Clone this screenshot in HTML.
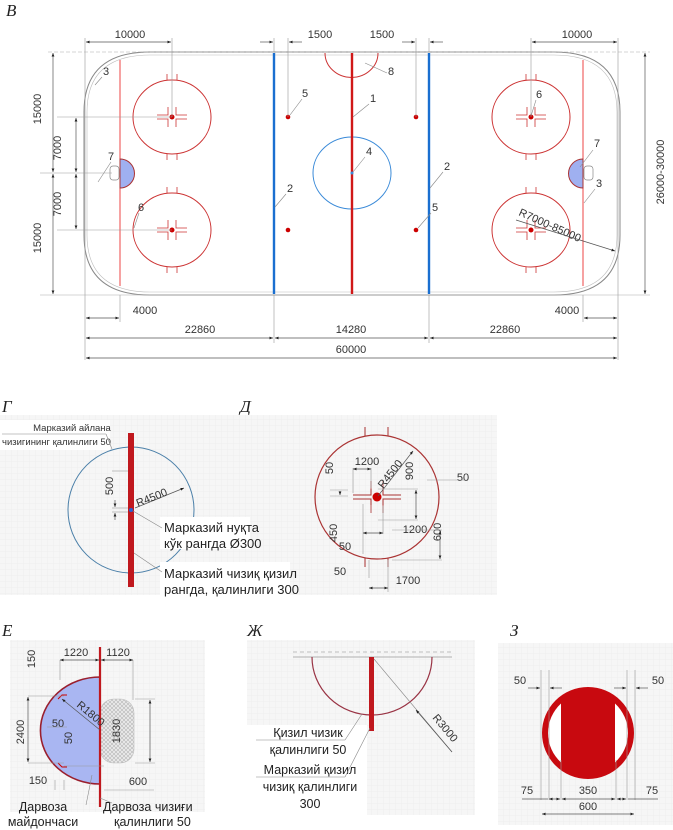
<!DOCTYPE html>
<html><head><meta charset="utf-8">
<style>
html,body{margin:0;padding:0;background:#fff;}
svg{display:block;font-family:"Liberation Sans","DejaVu Sans",sans-serif;}
.it{font-family:"Liberation Serif",serif;font-style:italic;font-size:17px;fill:#222;}
.d{font-size:11px;fill:#333;}
.dm{stroke:#555;stroke-width:0.7;fill:none;}
.ext{stroke:#999;stroke-width:0.6;fill:none;}
.n{font-size:11px;fill:#333;}
.ld{stroke:#888;stroke-width:0.6;fill:none;}
</style></head><body>
<svg width="673" height="830" viewBox="0 0 673 830" xmlns="http://www.w3.org/2000/svg">
<defs>
<pattern id="g" width="6" height="6" patternUnits="userSpaceOnUse">
<rect width="6" height="6" fill="#f6f6f6"/>
<path d="M6 0V6M0 6H6" stroke="#e8e8e8" stroke-width="0.5"/>
</pattern>
<pattern id="hatch" width="4" height="4" patternUnits="userSpaceOnUse">
<rect width="4" height="4" fill="#e6e6e6"/>
<path d="M0 0L4 4M4 0L0 4" stroke="#aaa" stroke-width="0.5"/>
</pattern>
<marker id="a" viewBox="0 0 10 10" refX="10" refY="5" markerWidth="7" markerHeight="5" orient="auto-start-reverse">
<path d="M0 1L10 5L0 9z" fill="#222"/></marker>
<g id="fo">
<ellipse cx="0" cy="0" rx="39" ry="37" fill="none" stroke="#c33" stroke-width="1"/>
<path d="M-5 -37v-6M5 -37v-6M-5 37v6M5 37v6" stroke="#c33" stroke-width="0.8"/>
<path d="M-15 -2h11v-8M15 -2h-11v-8M-15 2h11v8M15 2h-11v8" stroke="#c33" stroke-width="0.8" fill="none"/>
<circle r="2.5" fill="#c00"/>
</g>
</defs>

<text x="6" y="16" class="it">В</text>

<!-- Rink -->
<path d="M150 52H554Q620 52 620 112V235Q620 295 554 295H150Q84 295 84 235V112Q84 52 150 52Z" fill="none" stroke="#888" stroke-width="1"/>
<path d="M150 55H554Q617 55 617 112V235Q617 292 554 292H150Q87 292 87 235V112Q87 55 150 55Z" fill="none" stroke="#bbb" stroke-width="0.6"/>
<line x1="48" y1="52" x2="650" y2="52" stroke="#aaa" stroke-width="0.6" stroke-dasharray="4 2"/>
<line x1="40" y1="295" x2="650" y2="295" stroke="#aaa" stroke-width="0.6"/>
<line x1="120" y1="60" x2="120" y2="286" stroke="#e44" stroke-width="1"/>
<line x1="583" y1="60" x2="583" y2="286" stroke="#e44" stroke-width="1"/>
<line x1="274" y1="53" x2="274" y2="294" stroke="#1a6fd0" stroke-width="2.4"/>
<line x1="429" y1="53" x2="429" y2="294" stroke="#1a6fd0" stroke-width="2.4"/>
<path d="M325 53A26 24 0 0 0 378 53" fill="none" stroke="#c33" stroke-width="1"/>
<ellipse cx="352" cy="173" rx="39" ry="36" fill="none" stroke="#3a8ad8" stroke-width="1"/>
<line x1="352" y1="53" x2="352" y2="294" stroke="#d01818" stroke-width="2.4"/>
<circle cx="352" cy="173" r="1.5" fill="#3a8ad8"/>
<circle cx="288" cy="117" r="2.3" fill="#c00"/><circle cx="288" cy="230" r="2.3" fill="#c00"/>
<circle cx="416" cy="117" r="2.3" fill="#c00"/><circle cx="416" cy="230" r="2.3" fill="#c00"/>
<use href="#fo" x="172" y="117"/><use href="#fo" x="172" y="230"/>
<use href="#fo" x="531" y="117"/><use href="#fo" x="531" y="230"/>
<path d="M120 159A14 14 0 0 1 120 188Z" fill="#9fb0f0" stroke="#a33" stroke-width="1"/>
<path d="M583 159A14 14 0 0 0 583 188Z" fill="#9fb0f0" stroke="#a33" stroke-width="1"/>
<rect x="110" y="166" width="9" height="14" rx="3" fill="#fff" stroke="#888" stroke-width="0.7"/>
<rect x="584" y="166" width="9" height="14" rx="3" fill="#fff" stroke="#888" stroke-width="0.7"/>
<g class="n">
<text x="103" y="75">3</text><line class="ld" x1="102" y1="77" x2="95" y2="85"/>
<text x="108" y="160">7</text><line class="ld" x1="111" y1="162" x2="98" y2="182"/>
<text x="138" y="211">6</text><line class="ld" x1="139" y1="213" x2="134" y2="228"/>
<text x="302" y="97">5</text><line class="ld" x1="302" y1="99" x2="290" y2="115"/>
<text x="370" y="102">1</text><line class="ld" x1="369" y1="104" x2="353" y2="117"/>
<text x="388" y="75">8</text><line class="ld" x1="387" y1="73" x2="365" y2="63"/>
<text x="366" y="155">4</text><line class="ld" x1="365" y1="157" x2="353" y2="172"/>
<text x="287" y="192">2</text><line class="ld" x1="286" y1="194" x2="275" y2="207"/>
<text x="444" y="170">2</text><line class="ld" x1="443" y1="172" x2="430" y2="188"/>
<text x="432" y="211">5</text><line class="ld" x1="431" y1="213" x2="418" y2="228"/>
<text x="536" y="98">6</text><line class="ld" x1="536" y1="100" x2="531" y2="116"/>
<text x="594" y="147">7</text><line class="ld" x1="593" y1="150" x2="580" y2="167"/>
<text x="596" y="187">3</text><line class="ld" x1="595" y1="189" x2="584" y2="203"/>
</g>
<text x="518" y="215" class="d" transform="rotate(24 518 215)">R7000-85000</text>
<line x1="516" y1="220" x2="615" y2="251" class="dm" marker-end="url(#a)"/>

<g class="d" text-anchor="middle">
<text x="130" y="38">10000</text><text x="320" y="38">1500</text><text x="382" y="38">1500</text><text x="577" y="38">10000</text>
<text x="145" y="314">4000</text><text x="567" y="314">4000</text>
<text x="200" y="333">22860</text><text x="351" y="333">14280</text><text x="505" y="333">22860</text>
<text x="351" y="353">60000</text>
</g>
<line class="ext" x1="85" y1="38" x2="85" y2="360"/>
<line class="ext" x1="172" y1="38" x2="172" y2="117"/>
<line class="dm" x1="86" y1="42" x2="171" y2="42" marker-start="url(#a)" marker-end="url(#a)"/>
<line class="ext" x1="531" y1="38" x2="531" y2="117"/>
<line class="ext" x1="618" y1="38" x2="618" y2="360"/>
<line class="dm" x1="532" y1="42" x2="617" y2="42" marker-start="url(#a)" marker-end="url(#a)"/>
<line class="ext" x1="274" y1="38" x2="274" y2="52"/><line class="ext" x1="288" y1="38" x2="288" y2="117"/>
<line class="dm" x1="260" y1="42" x2="273" y2="42" marker-end="url(#a)"/><line class="dm" x1="302" y1="42" x2="289" y2="42" marker-end="url(#a)"/>
<line class="ext" x1="429" y1="38" x2="429" y2="52"/><line class="ext" x1="416" y1="38" x2="416" y2="117"/>
<line class="dm" x1="402" y1="42" x2="415" y2="42" marker-end="url(#a)"/><line class="dm" x1="443" y1="42" x2="430" y2="42" marker-end="url(#a)"/>
<line class="ext" x1="120" y1="295" x2="120" y2="322"/><line class="ext" x1="583" y1="295" x2="583" y2="322"/>
<line class="dm" x1="86" y1="318" x2="119" y2="318" marker-start="url(#a)" marker-end="url(#a)"/>
<line class="dm" x1="584" y1="318" x2="617" y2="318" marker-start="url(#a)" marker-end="url(#a)"/>
<line class="ext" x1="274" y1="295" x2="274" y2="343"/><line class="ext" x1="429" y1="295" x2="429" y2="343"/>
<line class="dm" x1="86" y1="338" x2="273" y2="338" marker-start="url(#a)" marker-end="url(#a)"/>
<line class="dm" x1="275" y1="338" x2="428" y2="338" marker-start="url(#a)" marker-end="url(#a)"/>
<line class="dm" x1="430" y1="338" x2="617" y2="338" marker-start="url(#a)" marker-end="url(#a)"/>
<line class="dm" x1="86" y1="358" x2="617" y2="358" marker-start="url(#a)" marker-end="url(#a)"/>
<line class="ext" x1="57" y1="117" x2="172" y2="117"/><line class="ext" x1="57" y1="230" x2="172" y2="230"/>
<line class="ext" x1="40" y1="173" x2="112" y2="173"/>
<line class="dm" x1="53" y1="53" x2="53" y2="172" marker-start="url(#a)" marker-end="url(#a)"/>
<line class="dm" x1="53" y1="174" x2="53" y2="294" marker-start="url(#a)" marker-end="url(#a)"/>
<line class="dm" x1="76" y1="118" x2="76" y2="172" marker-start="url(#a)" marker-end="url(#a)"/>
<line class="dm" x1="76" y1="174" x2="76" y2="229" marker-start="url(#a)" marker-end="url(#a)"/>
<line class="dm" x1="645" y1="53" x2="645" y2="294" marker-start="url(#a)" marker-end="url(#a)"/>
<g class="d" text-anchor="middle">
<text transform="translate(41 109) rotate(-90)">15000</text>
<text transform="translate(41 238) rotate(-90)">15000</text>
<text transform="translate(61 148) rotate(-90)">7000</text>
<text transform="translate(61 204) rotate(-90)">7000</text>
<text transform="translate(664 172) rotate(-90)">26000-30000</text>
</g>

<!-- Г -->
<text x="2" y="412" class="it">Г</text>
<text x="240" y="412" class="it">Д</text>
<rect x="0" y="415" width="497" height="180" fill="url(#g)"/>
<rect x="0" y="420" width="110" height="30" fill="#fff"/>
<circle cx="131" cy="510" r="63" fill="none" stroke="#4a7fa8" stroke-width="1"/>
<rect x="128" y="433" width="6" height="154" fill="#c0181e"/>
<circle cx="131" cy="510" r="2" fill="#2a5fd0"/>
<text x="72" y="431" font-size="9.5" fill="#333" text-anchor="middle">Марказий айлана</text>
<text x="2" y="445" font-size="9.5" fill="#333">чизигининг қалинлиги 50</text>
<line class="ld" x1="2" y1="434" x2="106" y2="434"/>
<line class="ld" x1="106" y1="434" x2="112" y2="449"/>
<line class="dm" x1="135" y1="508" x2="184" y2="488" marker-end="url(#a)"/>
<text x="138" y="507" class="d" transform="rotate(-22 138 507)">R4500</text>
<line class="ext" x1="112" y1="471" x2="128" y2="471"/><line class="ext" x1="112" y1="508" x2="128" y2="508"/><line class="ext" x1="112" y1="512" x2="128" y2="512"/>
<line class="dm" x1="115" y1="500" x2="115" y2="507" marker-end="url(#a)"/><line class="dm" x1="115" y1="520" x2="115" y2="513" marker-end="url(#a)"/>
<text transform="translate(113 486) rotate(-90)" class="d" text-anchor="middle">500</text>
<rect x="160" y="517" width="90" height="32" fill="#fff"/>
<text x="164" y="532" font-size="13" fill="#222">Марказий нуқта</text>
<text x="164" y="548" font-size="13" fill="#222">кўк рангда Ø300</text>
<line class="ld" x1="133" y1="511" x2="162" y2="528"/>
<rect x="160" y="562" width="130" height="33" fill="#fff"/>
<text x="164" y="578" font-size="13" fill="#222">Марказий чизиқ қизил</text>
<text x="164" y="594" font-size="13" fill="#222">рангда, қалинлиги 300</text>
<line class="ld" x1="134" y1="553" x2="162" y2="572"/>

<!-- Д -->
<circle cx="377" cy="497" r="62" fill="none" stroke="#a33" stroke-width="1.2"/>
<path d="M365 427v9M388 427v9M365 558v9M388 558v9" stroke="#a33" stroke-width="1"/>
<path d="M353 495h18v-6M401 495h-18v-6M353 499h18v6M401 499h-18v6" stroke="#a33" stroke-width="1" fill="none"/>
<path d="M371 489v-8M383 489v-8M371 505v8M383 505v8" stroke="#a33" stroke-width="0.8"/>
<circle cx="377" cy="497" r="4.5" fill="#c00"/>
<line class="dm" x1="378" y1="496" x2="413" y2="451" marker-end="url(#a)"/>
<text x="383" y="489" class="d" transform="rotate(-52 383 489)">R4500</text>
<g class="d" text-anchor="middle">
<text x="367" y="465">1200</text>
<text transform="translate(333 468) rotate(-90)">50</text>
<text transform="translate(413 471) rotate(-90)">900</text>
<text x="463" y="481">50</text>
<text transform="translate(337 533) rotate(-90)">450</text>
<text x="415" y="533">1200</text>
<text transform="translate(441 532) rotate(-90)">600</text>
<text x="345" y="550">50</text>
<text x="340" y="575">50</text>
<text x="408" y="584">1700</text>
</g>
<path class="ext" d="M353 468v25M371 468v20M330 490h18M330 496h18M418 489h-40M418 520h-40M363 504v50M383 506v28M392 530h50M392 560h50M369 560v18M388 560v32M427 480h40"/>
<line class="dm" x1="353" y1="469" x2="371" y2="469" marker-start="url(#a)" marker-end="url(#a)"/>
<line class="dm" x1="416" y1="490" x2="416" y2="519" marker-start="url(#a)" marker-end="url(#a)"/>
<line class="dm" x1="440" y1="531" x2="440" y2="559" marker-start="url(#a)" marker-end="url(#a)"/>
<line class="dm" x1="363" y1="533" x2="383" y2="533" marker-start="url(#a)" marker-end="url(#a)"/>
<line class="dm" x1="369" y1="588" x2="388" y2="588" marker-start="url(#a)" marker-end="url(#a)"/>
<line class="dm" x1="340" y1="491" x2="340" y2="495" marker-end="url(#a)"/>

<!-- Е -->
<text x="2" y="636" class="it">Е</text>
<rect x="10" y="640" width="195" height="172" fill="url(#g)"/>
<rect x="100" y="699" width="34" height="64" rx="14" fill="url(#hatch)" stroke="#bbb" stroke-width="0.6"/>
<path d="M100 677A59 53 0 0 0 100 784Z" fill="#a9b6f2" stroke="#9a1f2e" stroke-width="1.6"/>
<line x1="100" y1="647" x2="100" y2="807" stroke="#c0181e" stroke-width="2.2"/>
<path d="M58 699l4 -4h5M58 763l4 4h5" stroke="#c00" stroke-width="1" fill="none"/>
<line class="dm" x1="100" y1="730" x2="62" y2="699" marker-end="url(#a)"/>
<text x="76" y="706" class="d" transform="rotate(40 76 706)">R1800</text>
<g class="d" text-anchor="middle">
<text x="76" y="656">1220</text><text x="118" y="656">1120</text>
<text transform="translate(35 659) rotate(-90)">150</text>
<text transform="translate(24 732) rotate(-90)">2400</text>
<text x="58" y="727">50</text>
<text transform="translate(72 738) rotate(-90)">50</text>
<text transform="translate(120 731) rotate(-90)">1830</text>
<text x="38" y="784">150</text><text x="138" y="785">600</text>
</g>
<path class="ext" d="M60 660v20M133 660v40M28 696h36M28 763h36M135 699h20M135 763h20M47 727h20M64 766h40M55 780v10M64 780v10M104 790h50"/>
<line class="dm" x1="60" y1="660" x2="99" y2="660" marker-start="url(#a)" marker-end="url(#a)"/>
<line class="dm" x1="101" y1="660" x2="133" y2="660" marker-start="url(#a)" marker-end="url(#a)"/>
<line class="dm" x1="28" y1="697" x2="28" y2="762" marker-start="url(#a)" marker-end="url(#a)"/>
<line class="dm" x1="150" y1="700" x2="150" y2="762" marker-start="url(#a)" marker-end="url(#a)"/>
<text x="43" y="811" font-size="12.5" fill="#222" text-anchor="middle">Дарвоза</text>
<text x="43" y="826" font-size="12.5" fill="#222" text-anchor="middle">майдончаси</text>
<text x="103" y="811" font-size="12.5" fill="#222">Дарвоза чизиғи</text>
<text x="114" y="826" font-size="12.5" fill="#222">қалинлиги 50</text>
<line class="ld" x1="92" y1="775" x2="86" y2="805"/>
<line class="ld" x1="100" y1="798" x2="112" y2="803"/>

<!-- Ж -->
<text x="247" y="636" class="it">Ж</text>
<rect x="247" y="640" width="228" height="175" fill="url(#g)"/>
<line x1="293" y1="652" x2="452" y2="652" stroke="#aaa" stroke-width="0.8" stroke-dasharray="4 3"/>
<line x1="293" y1="657" x2="452" y2="657" stroke="#999" stroke-width="0.8"/>
<path d="M312 657A60 58 0 0 0 432 657" fill="none" stroke="#934" stroke-width="1.2"/>
<rect x="369" y="657" width="5" height="74" fill="#c0181e"/>
<line class="ld" x1="374" y1="659" x2="452" y2="752"/>
<line class="dm" x1="452" y1="752" x2="416" y2="710" marker-end="url(#a)"/>
<text x="432" y="718" class="d" font-size="12" transform="rotate(50 432 718)">R3000</text>
<rect x="247" y="725" width="120" height="90" fill="#fff"/>
<text x="308" y="737" font-size="12.5" fill="#222" text-anchor="middle">Қизил чизик</text>
<text x="308" y="754" font-size="12.5" fill="#222" text-anchor="middle">қалинлиги 50</text>
<text x="310" y="774" font-size="12.5" fill="#222" text-anchor="middle">Марказий қизил</text>
<text x="310" y="791" font-size="12.5" fill="#222" text-anchor="middle">чизиқ қалинлиги</text>
<text x="310" y="808" font-size="12.5" fill="#222" text-anchor="middle">300</text>
<line class="ld" x1="256" y1="740" x2="345" y2="740"/><line class="ld" x1="345" y1="740" x2="362" y2="714"/>
<line class="ld" x1="256" y1="777" x2="345" y2="777"/><line class="ld" x1="345" y1="777" x2="370" y2="728"/>

<!-- З -->
<text x="510" y="636" class="it">З</text>
<rect x="498" y="643" width="175" height="182" fill="url(#g)"/>
<circle cx="588" cy="733" r="46" fill="#c8090f"/>
<path d="M561 703.5A40 40 0 0 0 561 762.5Z" fill="#fff"/>
<path d="M615 703.5A40 40 0 0 1 615 762.5Z" fill="#fff"/>
<g class="ext"><path d="M541 670v130M549 670v130M561 760v40M616 760v40M627 670v130M635 670v130"/></g>
<line class="dm" x1="528" y1="688" x2="540" y2="688" marker-end="url(#a)"/><line class="dm" x1="562" y1="688" x2="550" y2="688" marker-end="url(#a)"/>
<line class="dm" x1="614" y1="688" x2="626" y2="688" marker-end="url(#a)"/><line class="dm" x1="648" y1="688" x2="636" y2="688" marker-end="url(#a)"/>
<line class="dm" x1="522" y1="799" x2="548" y2="799"/>
<line class="dm" x1="549" y1="799" x2="560" y2="799" marker-start="url(#a)" marker-end="url(#a)"/>
<line class="dm" x1="562" y1="799" x2="615" y2="799" marker-start="url(#a)" marker-end="url(#a)"/>
<line class="dm" x1="617" y1="799" x2="626" y2="799" marker-start="url(#a)" marker-end="url(#a)"/>
<line class="dm" x1="628" y1="799" x2="658" y2="799"/>
<line class="dm" x1="542" y1="814" x2="634" y2="814" marker-start="url(#a)" marker-end="url(#a)"/>
<g class="d" text-anchor="middle">
<text x="520" y="684">50</text><text x="658" y="684">50</text>
<text x="527" y="794">75</text><text x="588" y="794">350</text><text x="652" y="794">75</text>
<text x="588" y="810">600</text>
</g>
</svg>
</body></html>
